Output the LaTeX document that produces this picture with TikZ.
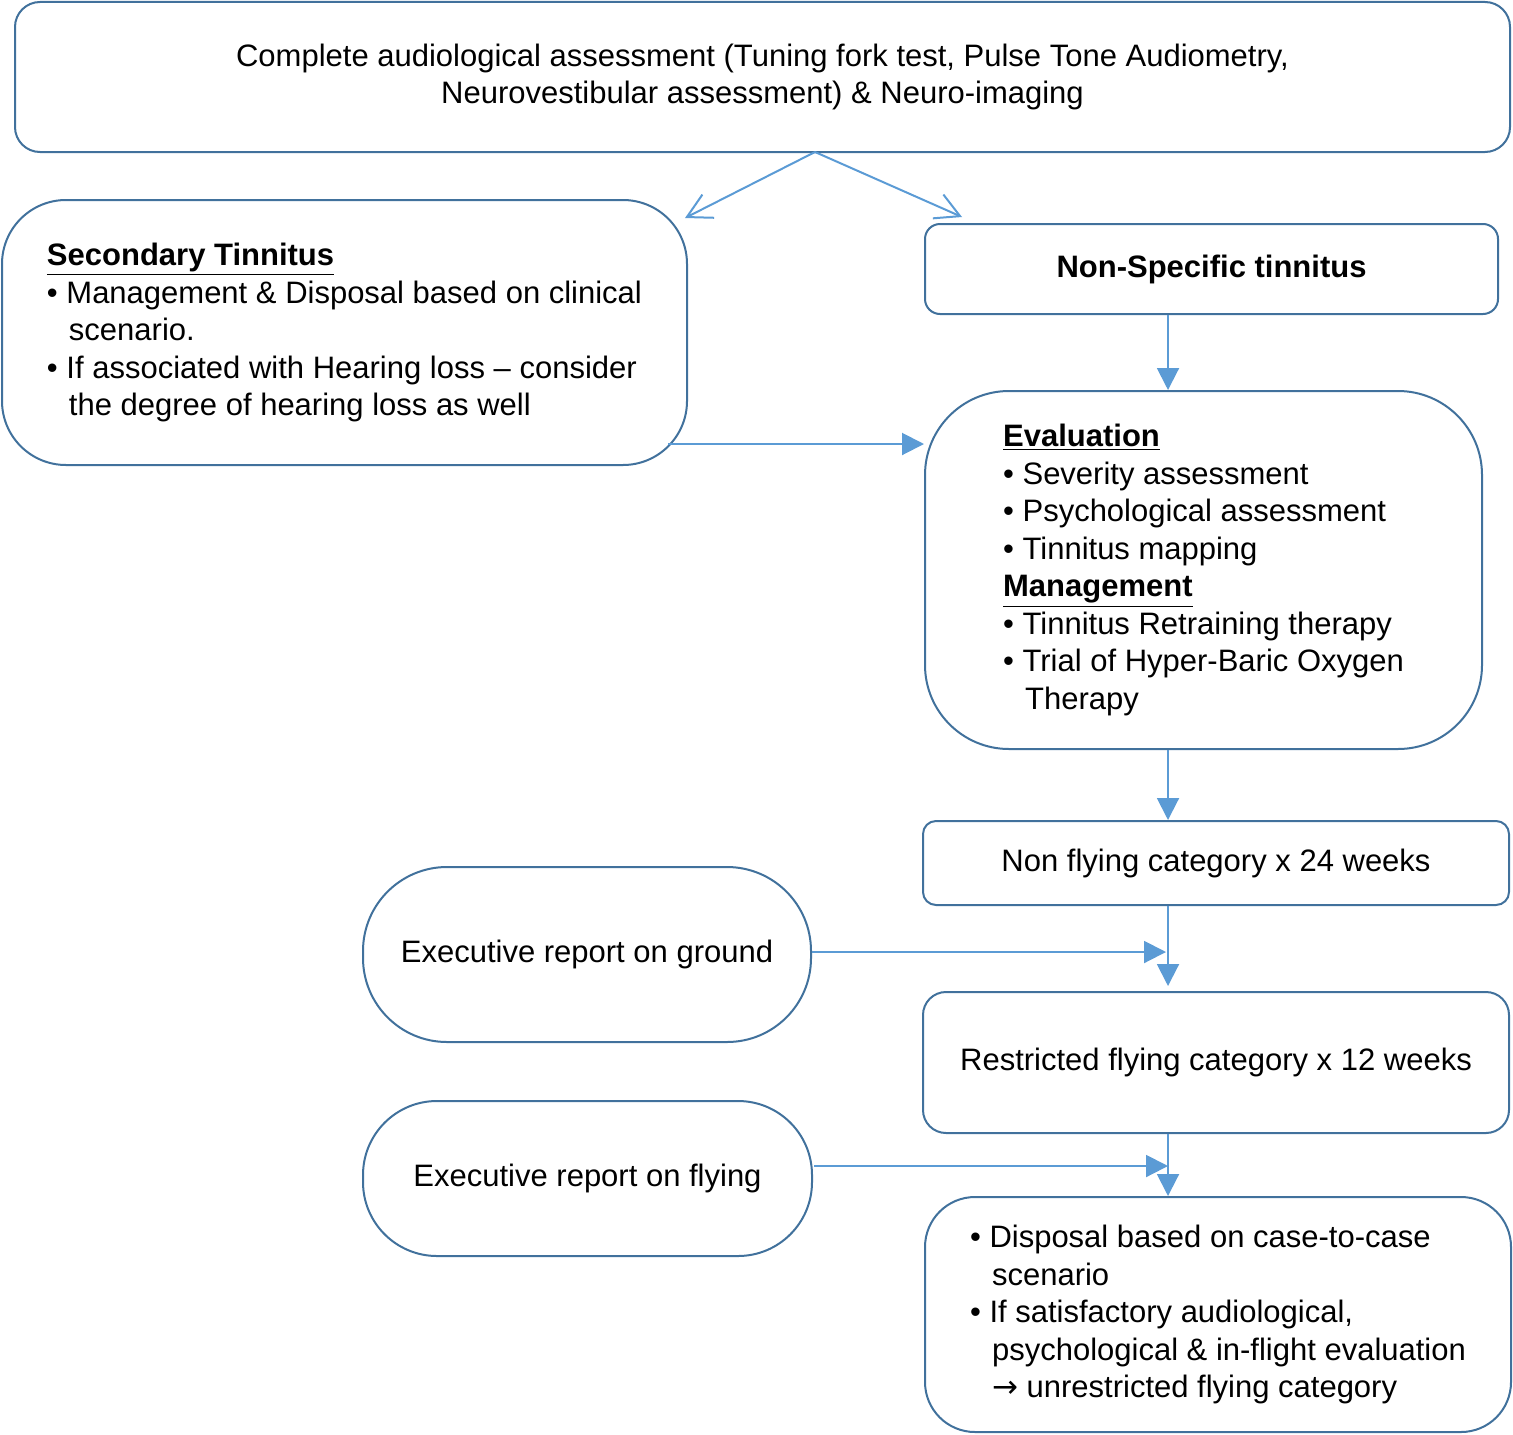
\documentclass[tikz,border=0pt]{standalone}
\usepackage{fontspec}
\setmainfont{Liberation Sans}
\newfontfamily\symfont{DejaVu Sans}
\usetikzlibrary{arrows.meta}
\definecolor{boxblue}{HTML}{41719C}
\definecolor{arrblue}{HTML}{5B9BD5}
\tikzset{
  box/.style={draw=boxblue, line width=1pt, align=center, inner sep=0pt,
    font=\fontsize{15.5}{18.75}\selectfont},
  arr/.style={draw=arrblue, line width=1pt, -{Triangle[length=11pt,width=11pt]}},
  openarr/.style={draw=arrblue, line width=1pt, -{Straight Barb[length=12pt,width=13pt]}},
}
\newcommand{\hang}{\hspace*{11pt}}
\begin{document}
\begin{tikzpicture}[x=0.5pt,y=-0.5pt]
        \useasboundingbox (0,0) rectangle (1513,1434);

        % Boxes
        \node[box, rounded corners=12.5pt, minimum width=747.5pt, minimum height=75pt] (assess) at (762.5,77)
          {Complete audiological assessment (Tuning fork test, Pulse Tone Audiometry,\\
           Neurovestibular assessment) \& Neuro-imaging};
        \node[box, align=left, rounded corners=32pt, minimum width=342.5pt, minimum height=132.5pt] (sec) at (344.5,332.5)
          {\underline{\textbf{Secondary Tinnitus}}\\
           • Management \& Disposal based on clinical\\
           \hang scenario.\\
           • If associated with Hearing loss – consider\\
           \hang the degree of hearing loss as well};
        \node[box, rounded corners=7.5pt, minimum width=286.5pt, minimum height=45pt] (nspec) at (1211.5,269)
          {\textbf{Non-Specific tinnitus}};
        \node[box, align=left, rounded corners=42pt, minimum width=278.5pt, minimum height=179pt] (eval) at (1203.5,570)
          {\underline{\textbf{Evaluation}}\\
           • Severity assessment\\
           • Psychological assessment\\
           • Tinnitus mapping\\
           \underline{\textbf{Management}}\\
           • Tinnitus Retraining therapy\\
           • Trial of Hyper-Baric Oxygen\\
           \hang Therapy};
        \node[box, rounded corners=6.5pt, minimum width=293pt, minimum height=42pt] (nonfly) at (1216,863)
          {Non flying category x 24 weeks};
        \node[box, rounded corners=11.5pt, minimum width=293pt, minimum height=70.5pt] (restr) at (1216,1062.5)
          {Restricted flying category x 12 weeks};
        \node[box, align=left, rounded corners=25pt, minimum width=293pt, minimum height=117.5pt] (disp) at (1218,1314.5)
          {• Disposal based on case-to-case\\
           \hang scenario\\
           • If satisfactory audiological,\\
           \hang psychological \& in-flight evaluation\\
           \hang {\symfont →} unrestricted flying category};
        \node[box, rounded corners=42pt, minimum width=224pt, minimum height=87.5pt] (ground) at (587,954.5)
          {Executive report on ground};
        \node[box, rounded corners=37pt, minimum width=224.5pt, minimum height=77.5pt] (fly) at (587.5,1178.5)
          {Executive report on flying};

        % Helper points
        \coordinate (spine) at (1168,0);
        \coordinate (split) at (815,152);
        \coordinate (toSec) at (685,218);
        \coordinate (toSpec) at (962,217);
        \coordinate (secOut) at (668,444);
        \coordinate (flyOut) at (814,1166);

        % Connectors
        \draw[openarr] (split) -- (toSec);
        \draw[openarr] (split) -- (toSpec);
        \draw[arr] (nspec.south -| spine) -- (eval.north -| spine);
        \draw[arr] (secOut) -- (secOut -| eval.west);
        \draw[arr] (eval.south -| spine) -- (nonfly.north -| spine);
        \draw[arr] (nonfly.south -| spine) -- ([yshift=2.5pt]restr.north -| spine);
        \draw[arr] ([yshift=1.25pt]ground.east) -- ([xshift=-1pt,yshift=1.25pt]ground.east -| spine);
        \draw[arr] (restr.south -| spine) -- (disp.north -| spine);
        \draw[arr] (flyOut) -- (flyOut -| spine);
    \end{tikzpicture}
\end{document}
